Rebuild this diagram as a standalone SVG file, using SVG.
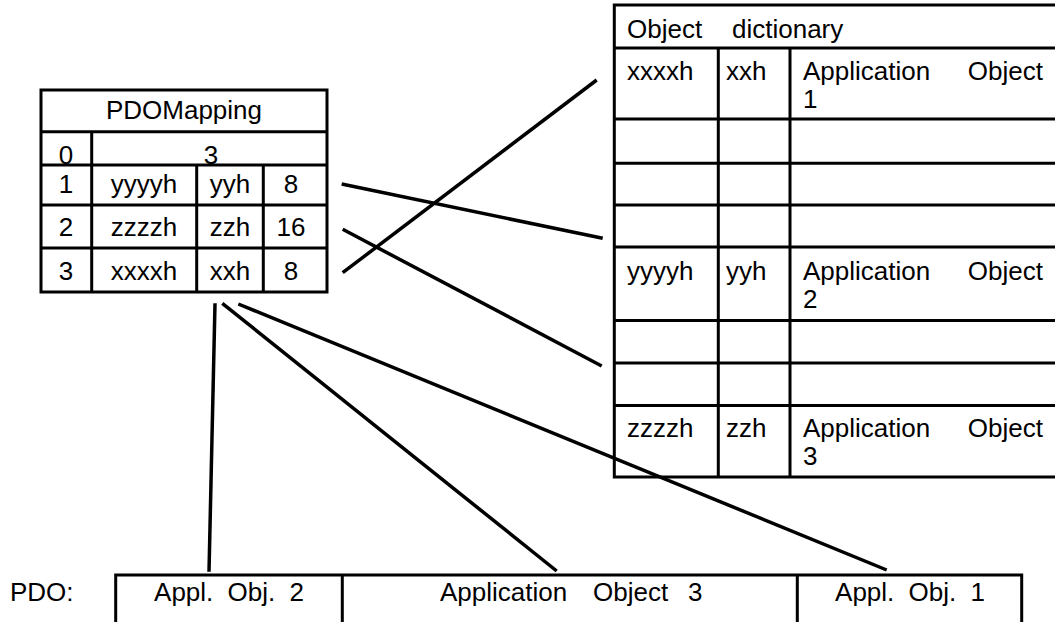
<svg xmlns="http://www.w3.org/2000/svg" width="1055" height="622" viewBox="0 0 1055 622">
  <style>
    .t { font-family: "Liberation Sans", Arial, Helvetica, sans-serif; font-size: 26px; fill: #000; }
    .c { text-anchor: middle; }
    .e { text-anchor: end; }
    .grid { fill: none; stroke: #000; stroke-width: 3; }
    .link { fill: none; stroke: #000; stroke-width: 3.5; stroke-linecap: butt; }
  </style>
  <rect width="1055" height="622" fill="#fff"/>

  <!-- PDO mapping table -->
  <g id="pdo-mapping">
    <text class="t c" x="184" y="119">PDOMapping</text>
    <text class="t c" x="66" y="164">0</text>
    <text class="t c" x="211" y="164">3</text>
    <text class="t c" x="66" y="193">1</text>
    <text class="t c" x="144" y="193">yyyyh</text>
    <text class="t c" x="230" y="193">yyh</text>
    <text class="t c" x="291" y="193">8</text>
    <text class="t c" x="66" y="236">2</text>
    <text class="t c" x="144" y="236">zzzzh</text>
    <text class="t c" x="230" y="236">zzh</text>
    <text class="t c" x="291" y="236">16</text>
    <text class="t c" x="66" y="280">3</text>
    <text class="t c" x="144" y="280">xxxxh</text>
    <text class="t c" x="230" y="280">xxh</text>
    <text class="t c" x="291" y="280">8</text>
    <path class="grid" d="M41 90H327V292H41Z M41 131.7H327 M41 165H327 M41 205H327 M41 248H327 M91.7 131.7V292 M196.7 165V292 M263.3 165V292"/>
  </g>

  <!-- Object dictionary table -->
  <g id="object-dictionary">
    <text class="t" x="627" y="38">Object</text>
    <text class="t" x="732" y="38">dictionary</text>

    <text class="t" x="627" y="80">xxxxh</text>
    <text class="t" x="726" y="80">xxh</text>
    <text class="t" x="803" y="80">Application</text>
    <text class="t e" x="1043" y="80">Object</text>
    <text class="t" x="803" y="108">1</text>

    <text class="t" x="627" y="280">yyyyh</text>
    <text class="t" x="726" y="280">yyh</text>
    <text class="t" x="803" y="280">Application</text>
    <text class="t e" x="1043" y="280">Object</text>
    <text class="t" x="803" y="308">2</text>

    <text class="t" x="627" y="437">zzzzh</text>
    <text class="t" x="726" y="437">zzh</text>
    <text class="t" x="803" y="437">Application</text>
    <text class="t e" x="1043" y="437">Object</text>
    <text class="t" x="803" y="465">3</text>

    <path class="grid" d="M1060 5H614.3V477H1060 M614.3 48H1060 M614.3 119H1060 M614.3 163.3H1060 M614.3 205H1060 M614.3 247H1060 M614.3 320.5H1060 M614.3 363H1060 M614.3 405.5H1060 M718.3 48V477 M790 48V477"/>
  </g>

  <!-- PDO frame -->
  <g id="pdo-frame">
    <text class="t" x="10" y="601">PDO:</text>
    <text class="t c" x="229" y="601" word-spacing="7">Appl. Obj. 2</text>
    <text class="t" x="440" y="601">Application</text>
    <text class="t" x="593" y="601">Object</text>
    <text class="t" x="688" y="601">3</text>
    <text class="t c" x="910" y="601" word-spacing="7">Appl. Obj. 1</text>
    <path class="grid" d="M115.7 625V575H1021.7V625 M342.3 575V625 M797.3 575V625"/>
  </g>

  <!-- Mapping connectors -->
  <g id="connectors" class="link">
    <line x1="341.7" y1="184" x2="602.7" y2="238.3"/>
    <line x1="342.7" y1="272.7" x2="596.7" y2="80"/>
    <line x1="342.7" y1="229.3" x2="601.7" y2="366"/>
    <line x1="215" y1="303.3" x2="209" y2="571.7"/>
    <line x1="222.3" y1="303.3" x2="556.7" y2="571"/>
    <line x1="238.3" y1="304" x2="886.7" y2="570"/>
  </g>
</svg>
